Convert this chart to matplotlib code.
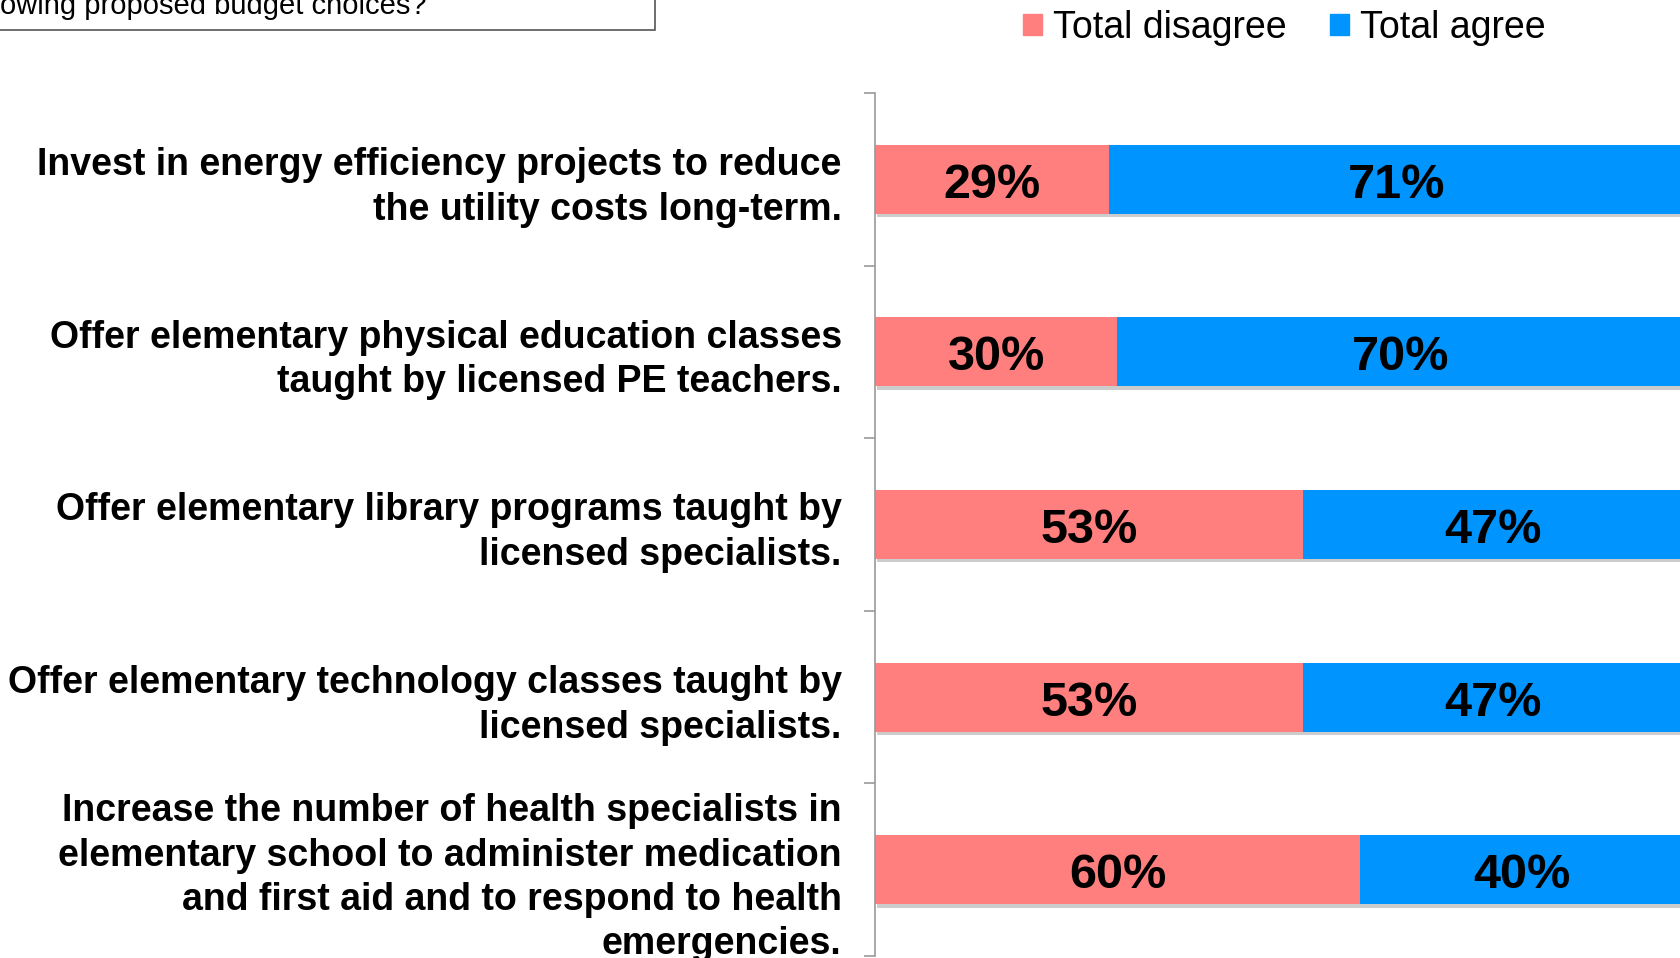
import matplotlib
matplotlib.use("Agg")
import matplotlib.pyplot as plt
import matplotlib.patheffects as pe
from matplotlib.patches import Patch, Rectangle
import numpy as np

plt.rcParams['font.family'] = ['Liberation Sans', 'DejaVu Sans']

# data
categories = [
    "Invest in energy efficiency projects to reduce\nthe utility costs long-term.",
    "Offer elementary physical education classes\ntaught by licensed PE teachers.",
    "Offer elementary library programs taught by\nlicensed specialists.",
    "Offer elementary technology classes taught by\nlicensed specialists.",
    "Increase the number of health specialists in\nelementary school to administer medication\n"
    "and first aid and to respond to health\nemergencies.",
]
disagree = [29, 30, 53, 53, 60]
agree = [71, 70, 47, 47, 40]
series_names = ["Total disagree", "Total agree"]
colors = ["#FF7F7F", "#0094FF"]
title_text = "owing proposed budget choices?"

fig = plt.figure(figsize=(16.8, 9.58), dpi=100)
ax = fig.add_axes([875 / 1680, 2 / 958, 808 / 1680, 863 / 958])

y = np.arange(len(categories))
shadow = [pe.SimplePatchShadow(offset=(1.5, -2.5), shadow_rgbFace='k', alpha=0.2), pe.Normal()]

left = np.zeros(len(categories))
for vals, c in zip([disagree, agree], colors):
    vals = np.array(vals)
    bars = ax.barh(y, vals, left=left, height=0.4, color=c, linewidth=0)
    for b in bars:
        b.set_path_effects(shadow)
    for yi, l, v in zip(y, left, vals):
        ax.text(l + v / 2, yi + 0.035, f"{v}%", ha='center', va='center',
                fontsize=35, fontweight='bold', color='black')
    left = left + vals

ax.set_xlim(0, 100)
ax.set_ylim(4.5, -0.5)
ax.set_yticks(y)
ax.set_yticklabels(categories, fontsize=27, fontweight='bold', linespacing=1.3)
ax.set_yticks(np.arange(-0.5, len(categories), 1), minor=True)
ax.tick_params(axis='y', which='major', length=0, pad=24)
ax.tick_params(axis='y', which='minor', length=8, width=1.2, color='#999999')
ax.set_xticks([])
for s in ['top', 'right', 'bottom']:
    ax.spines[s].set_visible(False)
ax.spines['left'].set_color('#999999')
ax.spines['left'].set_linewidth(1.2)

handles = [Patch(color=c) for c in colors]
fig.legend(handles, series_names, loc='upper left', bbox_to_anchor=(1023 / 1680, 0.99),
           ncol=2, frameon=False, fontsize=27, handlelength=0.5, handleheight=0.5,
           handletextpad=0.3, columnspacing=1.15, borderaxespad=0, borderpad=0)

# cropped question box in the top-left corner
fig.patches.append(Rectangle((-0.01, 1 - 30 / 958), 655 / 1680 + 0.01, 0.1,
                             transform=fig.transFigure, fill=False,
                             edgecolor='#555555', linewidth=1.2))
fig.text(0.0, 1 - 14 / 958, title_text, fontsize=21, va='baseline', ha='left')

fig.savefig('out.png', dpi=100)
